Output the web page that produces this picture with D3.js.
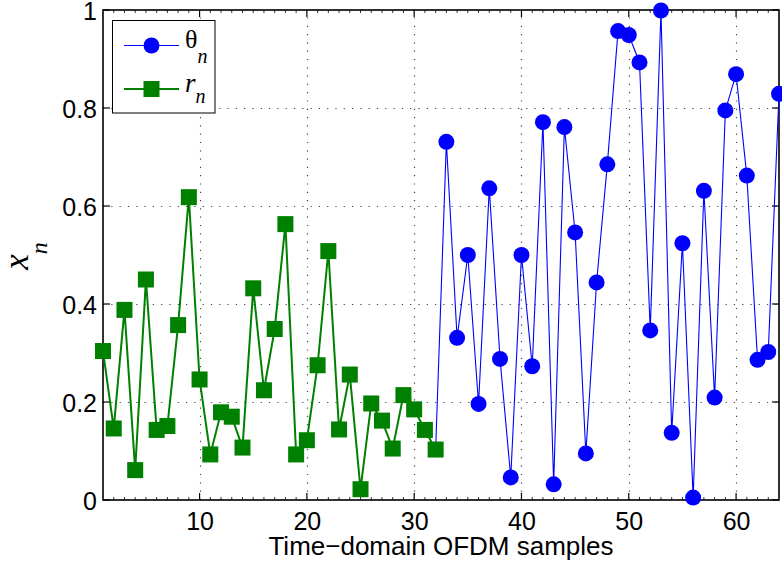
<!DOCTYPE html>
<html>
<head>
<meta charset="utf-8">
<script src="https://cdn.jsdelivr.net/npm/d3@7"></script>
<style>
  body { margin: 0; background: #fff; }
  svg { display: block; }
  text { font-family: "Liberation Sans", Arial, Helvetica, sans-serif; }
</style>
</head>
<body>
<svg id="chart" width="782" height="568"></svg>
<script>
// r_n for n = 1..32, theta_n for n = 33..64
var rValues = [0.304, 0.146, 0.388, 0.061, 0.450, 0.143, 0.151, 0.357, 0.618, 0.246,
	0.093, 0.179, 0.170, 0.107, 0.432, 0.224, 0.349, 0.563, 0.093, 0.122,
	0.275, 0.508, 0.144, 0.256, 0.022, 0.197, 0.162, 0.105, 0.214, 0.185,
	0.143, 0.103]
var thetaValues = [0.731, 0.331, 0.500, 0.196, 0.636, 0.288, 0.046, 0.500, 0.273, 0.771,
	0.032, 0.761, 0.546, 0.095, 0.444, 0.685, 0.957, 0.949, 0.893, 0.346,
	0.999, 0.137, 0.524, 0.005, 0.631, 0.209, 0.795, 0.869, 0.662, 0.286,
	0.302, 0.829]
var xTicks = [10, 20, 30, 40, 50, 60]
var yTicks = [0, 0.2, 0.4, 0.6, 0.8, 1]
var yTickLabels = ['0', '0.2', '0.4', '0.6', '0.8', '1']
var xLabel = 'Time\u2212domain OFDM samples'

var margin = { left: 103, right: 3, top: 10, bottom: 68 }
var width = 782, height = 568
var blue = '#0000ff', green = '#008000'

var rData = rValues.map((v, i) => ({ n: i + 1, v: v }))
var thetaData = thetaValues.map((v, i) => ({ n: i + 1 + rValues.length, v: v }))
// blue trace starts from the last r point
var thetaLine = [rData[rData.length - 1]].concat(thetaData)

var x = d3.scaleLinear().domain([1, 64]).range([margin.left, width - margin.right])
var y = d3.scaleLinear().domain([0, 1]).range([height - margin.bottom, margin.top])

var svg = d3.select('#chart')
var x0 = x.range()[0], x1 = x.range()[1], y0 = y.range()[0], y1 = y.range()[1]

// grid (dotted)
var grid = svg.append('g').attr('stroke', '#444').attr('stroke-width', 1.2).attr('stroke-dasharray', '1.2,7.1')
grid.selectAll('.gx').data(xTicks).join('line')
	.attr('x1', d => Math.round(x(d)) + 0.5).attr('x2', d => Math.round(x(d)) + 0.5)
	.attr('y1', y0).attr('y2', y1)
grid.selectAll('.gy').data(yTicks.slice(1, -1)).join('line')
	.attr('y1', d => Math.round(y(d)) + 0.5).attr('y2', d => Math.round(y(d)) + 0.5)
	.attr('x1', x0).attr('x2', x1)

// tick labels
var axisG = svg.append('g')
var bottomAxis = d3.axisBottom(x).tickValues(xTicks).tickSize(0).tickPadding(0)
axisG.append('g').attr('transform', 'translate(0,' + y0 + ')').call(bottomAxis)
	.call(g => g.select('.domain').remove())
	.call(g => g.selectAll('text').attr('y', 30).attr('dy', null).attr('font-size', 25).attr('fill', '#000'))

var leftAxis = d3.axisLeft(y).tickValues(yTicks).tickFormat((d, i) => yTickLabels[i]).tickSize(0).tickPadding(0)
axisG.append('g').attr('transform', 'translate(' + x0 + ',0)').call(leftAxis)
	.call(g => g.select('.domain').remove())
	.call(g => g.selectAll('text').attr('x', -6).attr('dy', '0.36em').attr('font-size', 25).attr('fill', '#000'))

var tickG = svg.append('g').attr('stroke', '#000').attr('stroke-width', 1.2)
// major x ticks (bottom and top, inward)
tickG.selectAll('.mxb').data(xTicks).join('line')
	.attr('x1', d => x(d)).attr('x2', d => x(d)).attr('y1', y0).attr('y2', y0 - 7)
tickG.selectAll('.mxt').data(xTicks).join('line')
	.attr('x1', d => x(d)).attr('x2', d => x(d)).attr('y1', y1).attr('y2', y1 + 7)
// minor x ticks
var minor = d3.range(2, 64).filter(d => xTicks.indexOf(d) < 0)
tickG.selectAll('.mnb').data(minor).join('line').attr('stroke-width', 0.8)
	.attr('x1', d => x(d)).attr('x2', d => x(d)).attr('y1', y0).attr('y2', y0 - 3)
tickG.selectAll('.mnt').data(minor).join('line').attr('stroke-width', 0.8)
	.attr('x1', d => x(d)).attr('x2', d => x(d)).attr('y1', y1).attr('y2', y1 + 3)
// y ticks (left and right)
tickG.selectAll('.myl').data(yTicks).join('line')
	.attr('y1', d => y(d)).attr('y2', d => y(d)).attr('x1', x0).attr('x2', x0 + 7)
tickG.selectAll('.myr').data(yTicks).join('line')
	.attr('y1', d => y(d)).attr('y2', d => y(d)).attr('x1', x1).attr('x2', x1 - 7)

svg.append('rect').attr('x', x0).attr('y', y1).attr('width', x1 - x0).attr('height', y0 - y1)
	.attr('fill', 'none').attr('stroke', '#000').attr('stroke-width', 1.6)

// labels
svg.append('text').attr('x', (x0 + x1) / 2).attr('y', 555).attr('text-anchor', 'middle')
	.attr('font-size', 26).text(xLabel)

var serif = '"Liberation Serif", "Times New Roman", serif'
var yl = svg.append('text').attr('transform', 'translate(28,256) rotate(-90)').attr('text-anchor', 'middle')
	.style('font-family', serif).style('font-style', 'italic')
yl.append('tspan').attr('font-size', 35).text('x')
yl.append('tspan').attr('font-size', 24).attr('dy', 19).text('n')

// series
var line = d3.line().x(d => x(d.n)).y(d => y(d.v))

svg.append('path').datum(thetaLine).attr('d', line)
	.attr('fill', 'none').attr('stroke', blue).attr('stroke-width', 1.1)
svg.selectAll('.theta').data(thetaData).join('circle')
	.attr('cx', d => x(d.n)).attr('cy', d => y(d.v)).attr('r', 8).attr('fill', blue)

svg.append('path').datum(rData).attr('d', line)
	.attr('fill', 'none').attr('stroke', green).attr('stroke-width', 2)
svg.selectAll('.rsq').data(rData).join('rect')
	.attr('x', d => x(d.n) - 8).attr('y', d => y(d.v) - 8).attr('width', 16).attr('height', 16)
	.attr('fill', green)

// legend
var lg = svg.append('g')
lg.append('rect').attr('x', 112.5).attr('y', 20.5).attr('width', 102.5).attr('height', 92.5)
	.attr('fill', '#fff').attr('stroke', '#000').attr('stroke-width', 1)
lg.append('line').attr('x1', 124).attr('x2', 179).attr('y1', 45.5).attr('y2', 45.5)
	.attr('stroke', blue).attr('stroke-width', 1.1)
lg.append('circle').attr('cx', 151.5).attr('cy', 45.5).attr('r', 8).attr('fill', blue)
lg.append('line').attr('x1', 124).attr('x2', 179).attr('y1', 89).attr('y2', 89)
	.attr('stroke', green).attr('stroke-width', 2)
lg.append('rect').attr('x', 143.5).attr('y', 81).attr('width', 16).attr('height', 16).attr('fill', green)

var t1 = lg.append('text').attr('x', 185).attr('y', 48).style('font-family', serif)
t1.append('tspan').attr('font-size', 26).text('\u03b8')
t1.append('tspan').attr('font-size', 20).attr('dy', 15).style('font-style', 'italic').text('n')
var t2 = lg.append('text').attr('x', 185).attr('y', 92).style('font-family', serif)
t2.append('tspan').attr('font-size', 27).style('font-style', 'italic').text('r')
t2.append('tspan').attr('font-size', 20).attr('dy', 11).style('font-style', 'italic').text('n')
</script>
</body>
</html>
